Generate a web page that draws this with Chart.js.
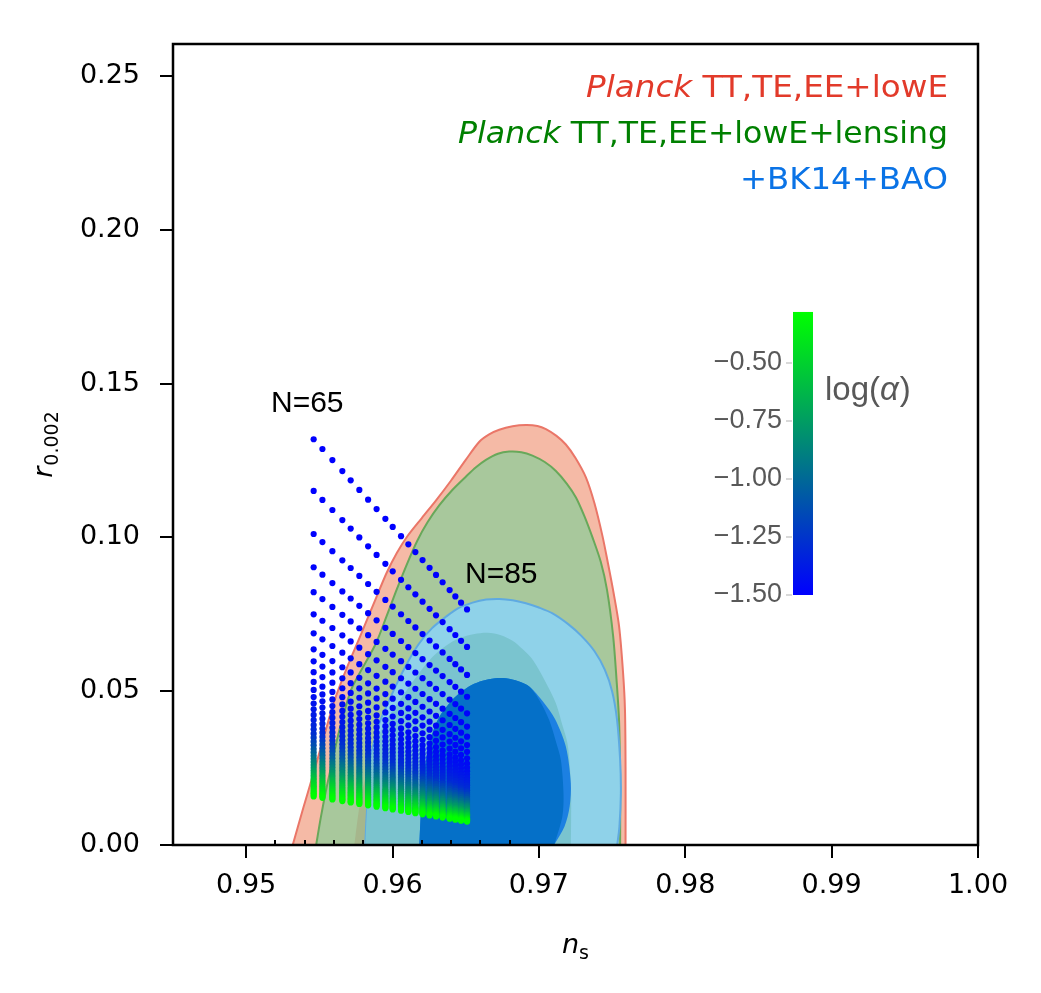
<!DOCTYPE html>
<html>
<head>
<meta charset="utf-8">
<script src="https://cdn.jsdelivr.net/npm/chart.js@4.4.1/dist/chart.umd.min.js"></script>
<style>
  html, body { margin: 0; padding: 0; background: #fff; }
  canvas { display: block; }
</style>
</head>
<body>
<canvas id="plot" width="1041" height="993"></canvas>
<script>
// axis ticks
var xTicks = [0.95, 0.96, 0.97, 0.98, 0.99, 1.00];
var yTicks = [0.00, 0.05, 0.10, 0.15, 0.20, 0.25];
var minorXTicks = [0.952, 0.954, 0.956, 0.958, 0.962, 0.964, 0.966, 0.968];
var cbarTicks = [-0.50, -0.75, -1.00, -1.25, -1.50];

// model predictions: one column per N, one track per alpha
var efolds = [65, 66, 67, 68, 69, 70, 71, 72, 73, 74, 75, 76, 77, 78, 79, 80, 81, 82, 83, 84, 85];
var nsAtN = [0.95461, 0.95521, 0.95589, 0.95657, 0.95714, 0.95773, 0.95833, 0.95891, 0.95951, 0.96001,
             0.96058, 0.96108, 0.96156, 0.96205, 0.96253, 0.96297, 0.96342, 0.96390, 0.96429, 0.96468, 0.96509];
var logAlpha = [-1.50, -1.50, -1.49, -1.49, -1.48, -1.48, -1.47, -1.47, -1.46, -1.46, -1.45, -1.44, -1.43, -1.41,
                -1.39, -1.37, -1.35, -1.33, -1.31, -1.28, -1.23, -1.18, -1.13, -1.08, -1.03, -0.98, -0.93, -0.88,
                -0.83, -0.78, -0.73, -0.68, -0.63, -0.59, -0.55, -0.51, -0.47, -0.44, -0.41, -0.38, -0.35, -0.32,
                -0.30, -0.28];
var rAtN65 = [0.1319, 0.1151, 0.1011, 0.0903, 0.0822, 0.0750, 0.0688, 0.0636, 0.0597, 0.0562, 0.0530, 0.0504,
              0.0481, 0.0460, 0.0441, 0.0423, 0.0406, 0.0390, 0.0376, 0.0362, 0.0349, 0.0336, 0.0324, 0.0312,
              0.0301, 0.0290, 0.0280, 0.0270, 0.0260, 0.0251, 0.0242, 0.0234, 0.0226, 0.0218, 0.0211, 0.0204,
              0.0197, 0.0191, 0.0185, 0.0179, 0.0173, 0.0168, 0.0163, 0.0158];
var rAtN85 = [0.0766, 0.0644, 0.0553, 0.0482, 0.0428, 0.0385, 0.0352, 0.0325, 0.0303, 0.0282, 0.0265, 0.0252,
              0.0240, 0.0229, 0.0219, 0.0210, 0.0202, 0.0194, 0.0186, 0.0178, 0.0171, 0.0164, 0.0157, 0.0150,
              0.0144, 0.0138, 0.0132, 0.0127, 0.0122, 0.0117, 0.0112, 0.0108, 0.0104, 0.0100, 0.0097, 0.0094,
              0.0091, 0.0088, 0.0086, 0.0084, 0.0082, 0.0080, 0.0078, 0.0076];

// Planck TT,TE,EE+lowE (95%)
var planckNs = [0.95318, 0.95390, 0.95455, 0.95530, 0.95600, 0.95683, 0.95780, 0.95890, 0.95960, 0.96030,
                0.96100, 0.96200, 0.96300, 0.96400, 0.96500, 0.96593, 0.96660, 0.96729, 0.96820, 0.96911,
                0.96990, 0.97048, 0.97120, 0.97184, 0.97250, 0.97321, 0.97380, 0.97434, 0.97470, 0.97510,
                0.97548, 0.97575, 0.97588, 0.97592, 0.97592];
var planckR = [0.0000, 0.0120, 0.0225, 0.0350, 0.0465, 0.0570, 0.0680, 0.0806, 0.0885, 0.0950,
               0.1003, 0.1063, 0.1122, 0.1185, 0.1252, 0.1311, 0.1335, 0.1350, 0.1361, 0.1365,
               0.1362, 0.1352, 0.1330, 0.1302, 0.1258, 0.1195, 0.1110, 0.1005, 0.0920, 0.0820,
               0.0710, 0.0560, 0.0440, 0.0250, 0.0000];

// + lensing (95%)
var lensNs = [0.95478, 0.95510, 0.95546, 0.95590, 0.95637, 0.95717, 0.95800, 0.95887, 0.95960, 0.96024,
              0.96100, 0.96170, 0.96240, 0.96320, 0.96410, 0.96502, 0.96570, 0.96638, 0.96720, 0.96797,
              0.96880, 0.96956, 0.97040, 0.97116, 0.97190, 0.97253, 0.97310, 0.97366, 0.97423, 0.97465,
              0.97507, 0.97530, 0.97548, 0.97555, 0.97555];
var lensR = [0.0000, 0.0090, 0.0179, 0.0275, 0.0374, 0.0504, 0.0580, 0.0656, 0.0745, 0.0825,
             0.0915, 0.0990, 0.1050, 0.1105, 0.1155, 0.1198, 0.1228, 0.1252, 0.1272, 0.1279,
             0.1277, 0.1266, 0.1245, 0.1216, 0.1175, 0.1130, 0.1070, 0.1000, 0.0920, 0.0830,
             0.0680, 0.0540, 0.0400, 0.0200, 0.0000];

// inner (68%) region of the Planck chains
var innerNs = [0.95739, 0.95760, 0.95790, 0.95840, 0.95900, 0.95990, 0.96092, 0.96183, 0.96274, 0.96365,
               0.96456, 0.96560, 0.96650, 0.96740, 0.96820, 0.96890, 0.96960, 0.97040, 0.97116, 0.97160,
               0.97195, 0.97212, 0.97220, 0.97220, 0.97218];
var innerR = [0.0000, 0.0080, 0.0170, 0.0260, 0.0340, 0.0430, 0.0500, 0.0560, 0.0612, 0.0648,
              0.0672, 0.0686, 0.0690, 0.0682, 0.0664, 0.0636, 0.0601, 0.0535, 0.0461, 0.0390,
              0.0331, 0.0250, 0.0168, 0.0080, 0.0000];

// +BK14+BAO (95%)
var bkNs = [0.95814, 0.95823, 0.95853, 0.95910, 0.95978, 0.96040, 0.96110, 0.96183, 0.96270, 0.96365,
            0.96450, 0.96547, 0.96640, 0.96729, 0.96820, 0.96911, 0.97000, 0.97093, 0.97200, 0.97290,
            0.97380, 0.97450, 0.97500, 0.97533, 0.97555, 0.97560, 0.97550, 0.97535];
var bkR = [0.0000, 0.0092, 0.0287, 0.0396, 0.0471, 0.0535, 0.0600, 0.0656, 0.0705, 0.0742,
           0.0770, 0.0788, 0.0798, 0.0800, 0.0796, 0.0786, 0.0772, 0.0753, 0.0718, 0.0680,
           0.0630, 0.0570, 0.0500, 0.0410, 0.0276, 0.0168, 0.0059, 0.0000];

// Planck 68% seen through the BK14 95% region
var overlapNs = [0.95814, 0.95823, 0.95853, 0.95900, 0.95990, 0.96092, 0.96183, 0.96274, 0.96365, 0.96456,
                 0.96560, 0.96650, 0.96740, 0.96820, 0.96890, 0.96960, 0.97040, 0.97116, 0.97160, 0.97195,
                 0.97212, 0.97220, 0.97220, 0.97218];
var overlapR = [0.0000, 0.0092, 0.0287, 0.0350, 0.0430, 0.0500, 0.0560, 0.0612, 0.0648, 0.0672,
                0.0686, 0.0690, 0.0682, 0.0664, 0.0636, 0.0601, 0.0535, 0.0461, 0.0390, 0.0331,
                0.0250, 0.0168, 0.0080, 0.0000];

// +BK14+BAO (68%), bright rim and core
var bk68Ns = [0.96183, 0.96195, 0.96229, 0.96270, 0.96320, 0.96390, 0.96456, 0.96540, 0.96615, 0.96700,
              0.96775, 0.96860, 0.96934, 0.97030, 0.97110, 0.97184, 0.97218, 0.97210, 0.97175, 0.97104];
var bk68R = [0.0000, 0.0114, 0.0276, 0.0360, 0.0417, 0.0462, 0.0493, 0.0520, 0.0534, 0.0542,
             0.0542, 0.0532, 0.0515, 0.0465, 0.0410, 0.0320, 0.0201, 0.0125, 0.0060, 0.0000];
var coreNs = [0.96183, 0.96195, 0.96229, 0.96270, 0.96320, 0.96390, 0.96456, 0.96540, 0.96615, 0.96700,
              0.96775, 0.96860, 0.96934, 0.97010, 0.97070, 0.97120, 0.97150, 0.97168, 0.97160, 0.97104];
var coreR = [0.0000, 0.0114, 0.0276, 0.0360, 0.0417, 0.0462, 0.0493, 0.0520, 0.0534, 0.0542,
             0.0542, 0.0532, 0.0515, 0.0465, 0.0406, 0.0330, 0.0276, 0.0168, 0.0092, 0.0000];

var CB_MIN = -1.5, CB_MAX = -0.28;

function alphaColor(v) {
  var t = Math.max(0, Math.min(1, (v - CB_MIN) / (CB_MAX - CB_MIN)));
  return 'rgb(0,' + Math.round(255 * t) + ',' + Math.round(255 * (1 - t)) + ')';
}

function toPoints(xs, ys) {
  return xs.map(function (x, i) { return { x: x, y: ys[i] }; });
}

function region(xs, ys, fillColor, lineColor, lineWidth, order) {
  return {
    data: toPoints(xs, ys),
    showLine: true,
    fill: 'shape',
    backgroundColor: fillColor,
    borderColor: lineColor || fillColor,
    borderWidth: lineWidth || 0,
    tension: 0.3,
    pointRadius: 0,
    order: order
  };
}

var datasets = [
  region(planckNs, planckR, 'rgb(245,186,166)', 'rgb(234,118,104)', 2, 100),
  region(lensNs, lensR, 'rgb(168,200,156)', 'rgb(104,168,90)', 2, 99),
  region(innerNs, innerR, 'rgb(166,182,140)', null, 0, 98),
  region(bkNs, bkR, 'rgb(143,210,233)', 'rgb(95,170,225)', 2, 97),
  region(overlapNs, overlapR, 'rgb(122,196,207)', null, 0, 96),
  region(bk68Ns, bk68R, 'rgb(28,128,226)', null, 0, 95),
  region(coreNs, coreR, 'rgb(5,112,200)', null, 0, 94)
];

// each alpha track runs straight from its N=65 dot to its N=85 dot
var nsSpan = nsAtN[nsAtN.length - 1] - nsAtN[0];
logAlpha.forEach(function (la, k) {
  var pts = nsAtN.map(function (ns) {
    var f = (ns - nsAtN[0]) / nsSpan;
    return { x: ns, y: rAtN65[k] + (rAtN85[k] - rAtN65[k]) * f };
  });
  datasets.push({
    data: pts,
    showLine: false,
    pointRadius: 3.1,
    pointBorderWidth: 0,
    pointBackgroundColor: alphaColor(la),
    order: -k
  });
});

// right-aligned mixed-style text, stretched to the width seen in the figure
function drawRunsRight(ctx, runs, xRight, y, width) {
  var total = 0;
  runs.forEach(function (r) { ctx.font = r.font; total += ctx.measureText(r.text).width; });
  ctx.save();
  ctx.translate(xRight - width, y);
  ctx.scale(width / total, 1);
  var x = 0;
  runs.forEach(function (r) {
    ctx.font = r.font;
    ctx.fillStyle = r.color;
    ctx.fillText(r.text, x, 0);
    x += ctx.measureText(r.text).width;
  });
  ctx.restore();
}

var decor = {
  id: 'decor',
  afterDatasetsDraw: function (chart) {
    var ctx = chart.ctx, a = chart.chartArea, xs = chart.scales.x;
    ctx.save();
    ctx.textAlign = 'left';
    ctx.textBaseline = 'alphabetic';

    // frame + inward minor ticks
    ctx.strokeStyle = '#000';
    ctx.lineWidth = 2.5;
    ctx.strokeRect(a.left, a.top, a.right - a.left, a.bottom - a.top);
    ctx.lineWidth = 2;
    minorXTicks.forEach(function (v) {
      var px = Math.round(xs.getPixelForValue(v));
      ctx.beginPath();
      ctx.moveTo(px, a.bottom);
      ctx.lineTo(px, a.bottom - 5);
      ctx.stroke();
    });

    // legend text
    var red = 'rgb(226,58,42)', green = 'rgb(0,128,0)', blue = 'rgb(10,115,230)';
    var it = 'italic 31px "DejaVu Sans"', up = '31px "DejaVu Sans"';
    drawRunsRight(ctx, [{ text: 'Planck ', font: it, color: red }, { text: 'TT,TE,EE+lowE', font: up, color: red }], 948, 97, 362);
    drawRunsRight(ctx, [{ text: 'Planck ', font: it, color: green }, { text: 'TT,TE,EE+lowE+lensing', font: up, color: green }], 948, 143, 490);
    drawRunsRight(ctx, [{ text: '+BK14+BAO', font: up, color: blue }], 948, 189, 208);

    // N labels
    ctx.fillStyle = '#000';
    ctx.font = '30px "Liberation Sans"';
    ctx.fillText('N=65', 271, 412);
    ctx.fillText('N=85', 465, 583);

    // colour bar
    var cbX = 793, cbW = 20;
    function cbY(v) { return 595 - (v - CB_MIN) * 232; }
    var g = ctx.createLinearGradient(0, cbY(CB_MIN), 0, cbY(CB_MAX));
    g.addColorStop(0, alphaColor(CB_MIN));
    g.addColorStop(1, alphaColor(CB_MAX));
    ctx.fillStyle = g;
    ctx.fillRect(cbX, cbY(CB_MAX), cbW, cbY(CB_MIN) - cbY(CB_MAX));
    ctx.strokeStyle = 'rgb(205,205,205)';
    ctx.lineWidth = 1.5;
    ctx.font = '27px "Liberation Sans"';
    ctx.fillStyle = 'rgb(88,88,88)';
    ctx.textAlign = 'right';
    ctx.textBaseline = 'middle';
    cbarTicks.forEach(function (v) {
      var py = cbY(v);
      ctx.beginPath();
      ctx.moveTo(cbX - 7, py);
      ctx.lineTo(cbX - 1, py);
      ctx.stroke();
      ctx.fillText('\u2212' + Math.abs(v).toFixed(2), 782, py);
    });
    ctx.textAlign = 'left';
    ctx.textBaseline = 'alphabetic';
    var lx = 825;
    ctx.font = '33px "Liberation Sans"';
    ctx.fillText('log(', lx, 400);
    lx += ctx.measureText('log(').width;
    ctx.font = 'italic 33px "Liberation Sans"';
    ctx.fillText('\u03b1', lx, 400);
    lx += ctx.measureText('\u03b1').width + 1;
    ctx.font = '33px "Liberation Sans"';
    ctx.fillText(')', lx, 400);

    // axis titles
    ctx.fillStyle = '#000';
    ctx.font = 'italic 27px "DejaVu Sans"';
    var wn = ctx.measureText('n').width;
    ctx.font = '19px "DejaVu Sans"';
    var ws = ctx.measureText('s').width;
    var tx = (a.left + a.right) / 2 - (wn + ws) / 2;
    ctx.font = 'italic 27px "DejaVu Sans"';
    ctx.fillText('n', tx, 953);
    ctx.font = '19px "DejaVu Sans"';
    ctx.fillText('s', tx + wn, 959);

    ctx.translate(52, 445);
    ctx.rotate(-Math.PI / 2);
    ctx.font = 'italic 27px "DejaVu Sans"';
    var wr = ctx.measureText('r').width;
    ctx.font = '19px "DejaVu Sans"';
    var wsub = ctx.measureText('0.002').width;
    var ox = -(wr + wsub) / 2;
    ctx.font = 'italic 27px "DejaVu Sans"';
    ctx.fillText('r', ox, 0);
    ctx.font = '19px "DejaVu Sans"';
    ctx.fillText('0.002', ox + wr + 1, 6);
    ctx.restore();
  }
};

var tickFont = { family: 'DejaVu Sans', size: 27 };

new Chart(document.getElementById('plot').getContext('2d'), {
  type: 'scatter',
  data: { datasets: datasets },
  plugins: [decor],
  options: {
    responsive: false,
    animation: false,
    devicePixelRatio: 1,
    layout: { padding: { top: 44, right: 63, left: 0, bottom: 0 } },
    plugins: {
      legend: { display: false },
      tooltip: { enabled: false }
    },
    scales: {
      x: {
        type: 'linear',
        min: 0.945,
        max: 1.0,
        afterBuildTicks: function (s) { s.ticks = xTicks.map(function (v) { return { value: v }; }); },
        afterFit: function (s) { s.height = 148; },
        ticks: {
          color: '#000',
          font: tickFont,
          padding: 12,
          maxRotation: 0,
          callback: function (v) { return Number(v).toFixed(2); }
        },
        grid: { drawOnChartArea: false, drawTicks: true, tickLength: 13, color: '#000', lineWidth: 2 },
        border: { display: false }
      },
      y: {
        type: 'linear',
        min: 0,
        max: 0.2604,
        afterBuildTicks: function (s) { s.ticks = yTicks.map(function (v) { return { value: v }; }); },
        afterFit: function (s) { s.width = 173; },
        ticks: {
          color: '#000',
          font: tickFont,
          padding: 20,
          callback: function (v) { return Number(v).toFixed(2); }
        },
        grid: { drawOnChartArea: false, drawTicks: true, tickLength: 13, color: '#000', lineWidth: 2 },
        border: { display: false }
      }
    }
  }
});
</script>
</body>
</html>
